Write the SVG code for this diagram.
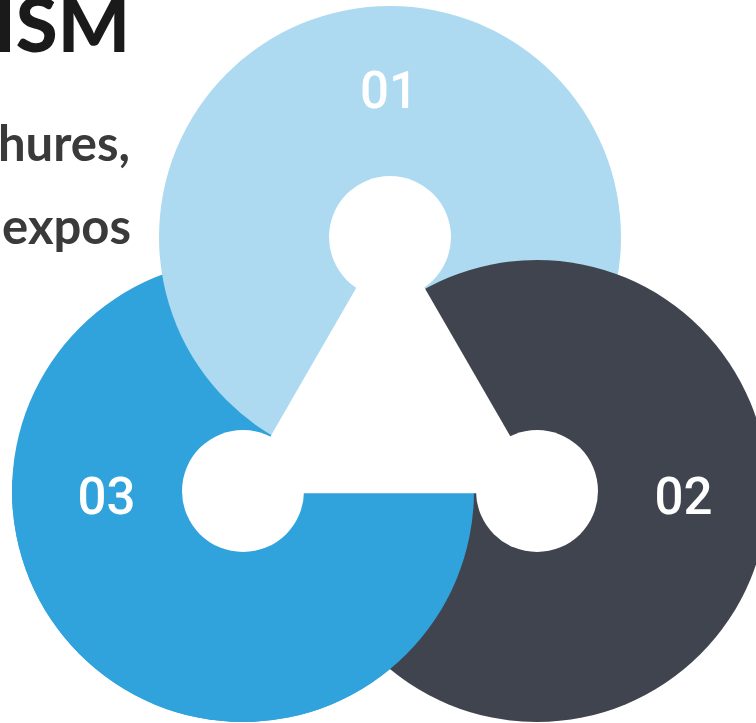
<svg xmlns="http://www.w3.org/2000/svg" width="756" height="723" viewBox="0 0 756 723">
  <style>
    .c1 { fill: #ADDAF0; }
    .c2 { fill: #40444F; }
    .c3 { fill: #31A3DC; }
    .hole { fill: #FFFFFF; }
    .num { font-family: Roboto, "Liberation Sans", sans-serif; font-weight: 500; font-size: 51px; fill: #FFFFFF; text-anchor: middle; }
    .title { font-family: Lato, "Liberation Sans", sans-serif; font-weight: 900; font-size: 76px; fill: #1A1A1A; text-anchor: end; }
    .body { font-family: Lato, "Liberation Sans", sans-serif; font-weight: 700; font-size: 49px; fill: #3A3A3A; text-anchor: end; }
  </style>
  <defs>
    <clipPath id="bottomClip">
      <rect x="0" y="480" width="756" height="243"/>
    </clipPath>
  </defs>
  <rect x="0" y="0" width="756" height="723" fill="#FFFFFF"/>

  <g id="heading">
    <text class="title" x="130" y="52">ISM</text>
    <text class="body" x="130" y="161">hures,</text>
    <text class="body" x="131" y="244">expos</text>
  </g>

  <g id="node-03-base">
    <circle class="c3" cx="243" cy="491" r="231"/>
  </g>
  <g id="node-01">
    <circle class="c1" cx="390" cy="237" r="231"/>
  </g>
  <g id="node-02">
    <circle class="c2" cx="537" cy="491" r="231"/>
  </g>
  <g id="node-03">
    <circle class="c3" cx="243" cy="491" r="231" clip-path="url(#bottomClip)"/>
  </g>

  <g id="connectors">
    <polygon class="hole" points="390.4,228.7 237.6,493.3 543.2,493.3"/>
    <circle class="hole" cx="390" cy="237" r="61"/>
    <circle class="hole" cx="537" cy="491" r="61"/>
    <circle class="hole" cx="243" cy="491" r="61"/>
  </g>

  <g id="labels">
    <text class="num" x="389" y="108">01</text>
    <text class="num" x="683.5" y="514">02</text>
    <text class="num" x="106.5" y="514">03</text>
  </g>
</svg>
